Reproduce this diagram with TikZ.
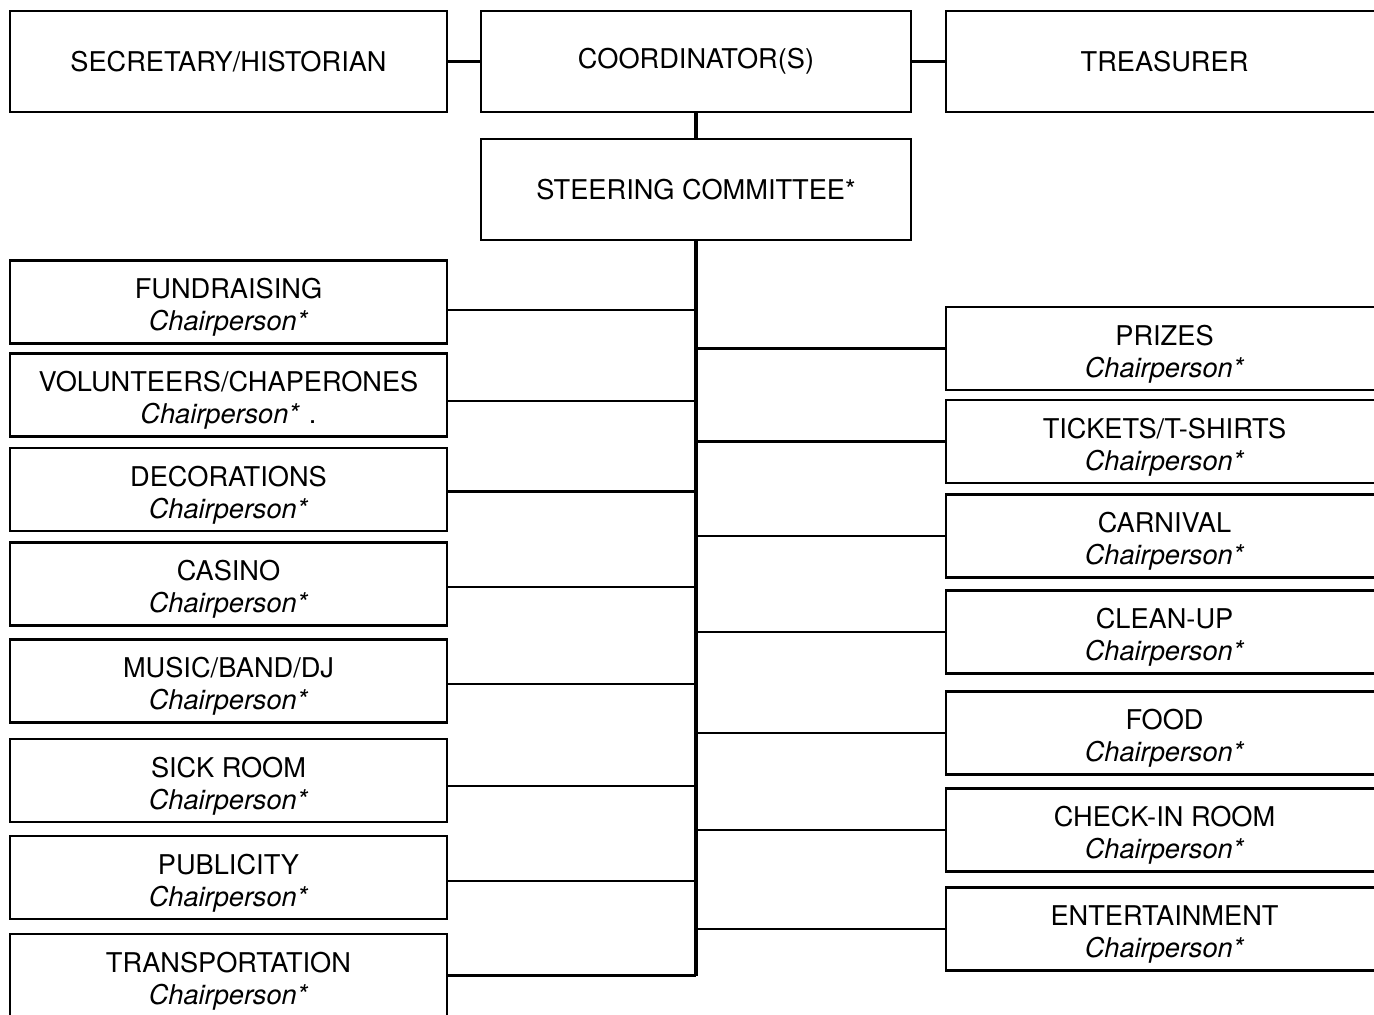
\documentclass[tikz,border=0pt]{standalone}
\usepackage{fontspec}
\setmainfont{TeX Gyre Heros}
\newcommand{\task}[1]{\rule{0pt}{15.5pt}#1\\\textit{Chairperson*}}

\begin{document}
\begin{tikzpicture}[x=0.5pt,y=-0.5pt,
  box/.style={draw,line width=1.3pt,minimum width=218.5pt,minimum height=41.5pt,
    inner sep=0pt,align=center,font=\fontsize{13.6}{16}\selectfont},
  topbox/.style={box,minimum height=50.5pt},
  link/.style={line width=1.2pt},
  trunk/.style={line width=1.6pt}]
\useasboundingbox (0,0) rectangle (1374,1015);
\node[topbox] (sec) at (228.5,61.5) {SECRETARY/HISTORIAN};
\node[topbox,minimum width=215pt] (coord) at (696,61.5) {COORDINATOR(S)};
\node[topbox] (treas) at (1164.5,61.5) {TREASURER};
\node[topbox,minimum width=215pt] (steer) at (696,189.5) {STEERING COMMITTEE*};
\node[box] (fund) at (228.5,302) {\task{FUNDRAISING}};
\node[box] (vol) at (228.5,395) {\task{VOLUNTEERS/CHAPERONES}\,\,.};
\node[box] (deco) at (228.5,489.5) {\task{DECORATIONS}};
\node[box] (casino) at (228.5,584) {\task{CASINO}};
\node[box] (music) at (228.5,681) {\task{MUSIC/BAND/DJ}};
\node[box] (sick) at (228.5,780.5) {\task{SICK ROOM}};
\node[box] (publ) at (228.5,877.5) {\task{PUBLICITY}};
\node[box] (trans) at (228.5,975.5) {\task{TRANSPORTATION}};
\node[box] (prizes) at (1164.5,348.5) {\task{PRIZES}};
\node[box] (tickets) at (1164.5,441.5) {\task{TICKETS/T-SHIRTS}};
\node[box] (carnival) at (1164.5,536) {\task{CARNIVAL}};
\node[box] (cleanup) at (1164.5,632) {\task{CLEAN-UP}};
\node[box] (food) at (1164.5,733) {\task{FOOD}};
\node[box] (checkin) at (1164.5,830) {\task{CHECK-IN ROOM}};
\node[box] (entert) at (1164.5,929) {\task{ENTERTAINMENT}};
\draw[link] (sec) -- (coord);
\draw[link] (coord) -- (treas);
\draw[trunk] (coord) -- (steer);
\draw[trunk] (steer.south) -- (steer.south |- trans.east);
\draw[link] ([yshift=-4pt]fund.east) -- ([yshift=-4pt]fund.east -| steer.south);
\draw[link] ([yshift=-3pt]vol.east) -- ([yshift=-3pt]vol.east -| steer.south);
\draw[link] ([yshift=-1pt]deco.east) -- ([yshift=-1pt]deco.east -| steer.south);
\draw[link] ([yshift=-1.5pt]casino.east) -- ([yshift=-1.5pt]casino.east -| steer.south);
\draw[link] ([yshift=-1.5pt]music.east) -- ([yshift=-1.5pt]music.east -| steer.south);
\draw[link] ([yshift=-2.75pt]sick.east) -- ([yshift=-2.75pt]sick.east -| steer.south);
\draw[link] ([yshift=-1.75pt]publ.east) -- ([yshift=-1.75pt]publ.east -| steer.south);
\draw[link] (trans.east) -- (trans.east -| steer.south);
\draw[link] (prizes.west) -- (prizes.west -| steer.south);
\draw[link] (tickets.west) -- (tickets.west -| steer.south);
\draw[link] (carnival.west) -- (carnival.west -| steer.south);
\draw[link] (cleanup.west) -- (cleanup.west -| steer.south);
\draw[link] (food.west) -- (food.west -| steer.south);
\draw[link] (checkin.west) -- (checkin.west -| steer.south);
\draw[link] (entert.west) -- (entert.west -| steer.south);
\end{tikzpicture}
\end{document}
